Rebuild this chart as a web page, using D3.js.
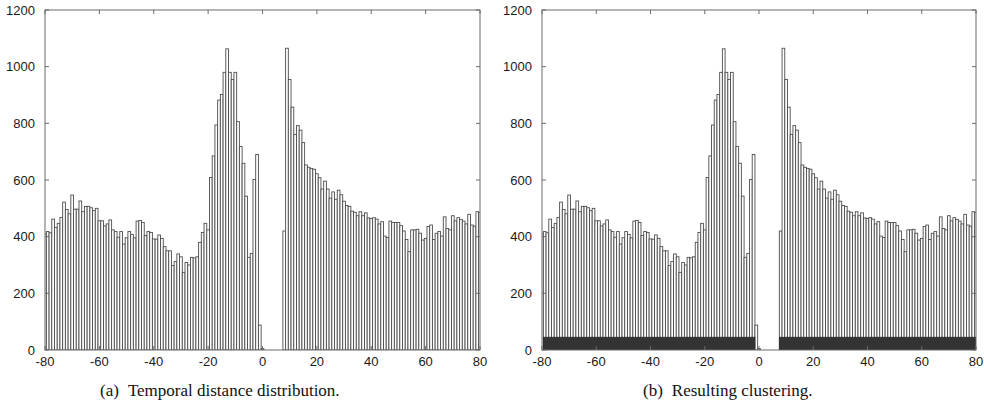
<!DOCTYPE html>
<html>
<head>
<meta charset="utf-8">
<script src="https://cdn.jsdelivr.net/npm/d3@7"></script>
<style>
  html, body { margin: 0; padding: 0; background: #fff; }
  svg { display: block; }
</style>
</head>
<body>
<svg id="chart" width="984" height="414"></svg>
<script>
// Histogram bins: one bin per unit of temporal distance, first bin at -80.
const firstBin = -80;
const counts = [
  410, 418, 414, 462, 432, 447, 468, 522, 496, 481, 547,
  497, 497, 526, 488, 507, 507, 502, 492, 500, 456, 456, 438, 445, 459,
  424, 418, 398, 418, 374, 396, 418, 408, 396,
  455, 457, 450,
  404, 418, 415, 392, 391, 406, 394, 365, 350,
  350, 298, 312, 339, 329, 274, 309, 300, 327, 325, 329,
  380, 415, 447, 424, 609, 685, 794, 882, 902, 980,
  1063,
  980, 955, 980, 806, 718, 659, 543, 327, 341, 602, 690, 88,
  5,
  0, 0, 0, 0, 0, 0, 0,
  420, 1065, 955, 857, 761, 792, 776, 732, 653, 645, 641, 638, 622, 608,
  568, 596, 568, 536, 558, 532, 564, 548, 525, 510, 507, 490, 486, 474, 488, 474, 484, 466, 464,
  467, 462, 445, 453, 402, 397, 455, 450, 450, 450, 439, 420, 390, 347,
  424, 424, 426, 412, 388, 394, 436, 441, 390, 412, 418, 402,
  470, 429, 424, 474, 456, 467, 461, 455, 445, 479, 441, 437, 488, 486
];

// Clusters found in panel (b): first and last bin of each cluster.
const clusters = [[-79, -2], [8, 80]];
const clusterLevel = 45;

const xTicks = [-80, -60, -40, -20, 0, 20, 40, 60, 80];
const yTicks = [0, 200, 400, 600, 800, 1000, 1200];

const panels = [
  { id: "a", label: "(a)", caption: "Temporal distance distribution.", left: 45, right: 480, showClusters: false, capX: 100 },
  { id: "b", label: "(b)", caption: "Resulting clustering.", left: 542, right: 976, showClusters: true, capX: 643 }
];

const plotTop = 10, plotBottom = 350, tickLen = 4;
const frameColor = "#6a6a6a";
const svg = d3.select("#chart");

const bins = counts.map((c, i) => ({ d: firstBin + i, c }));

panels.forEach(p => {
  const x = d3.scaleLinear().domain([-80, 80]).range([p.left, p.right]);
  const y = d3.scaleLinear().domain([0, 1200]).range([plotBottom, plotTop]);
  const g = svg.append("g");

  g.append("clipPath").attr("id", "clip-" + p.id)
    .append("rect")
    .attr("x", p.left).attr("y", plotTop)
    .attr("width", p.right - p.left).attr("height", plotBottom - plotTop);

  const plot = g.append("g").attr("clip-path", `url(#clip-${p.id})`);

  // histogram boxes, centred on each distance value
  plot.selectAll("rect.bar")
    .data(bins.filter(b => b.c > 0))
    .join("rect")
    .attr("class", "bar")
    .attr("x", b => x(b.d - 0.5))
    .attr("width", b => x(b.d + 0.5) - x(b.d - 0.5))
    .attr("y", b => y(b.c))
    .attr("height", b => y(0) - y(b.c))
    .attr("fill", "#fff")
    .attr("stroke", "#4d4d4d")
    .attr("stroke-width", 0.9);

  if (p.showClusters) {
    plot.selectAll("rect.cluster")
      .data(clusters)
      .join("rect")
      .attr("class", "cluster")
      .attr("x", c => x(c[0] - 0.5))
      .attr("width", c => x(c[1] + 0.5) - x(c[0] - 0.5))
      .attr("y", y(clusterLevel))
      .attr("height", y(0) - y(clusterLevel))
      .attr("fill", "#333")
      .attr("stroke", "#2a2a2a")
      .attr("stroke-width", 0.8);
  }

  // frame
  g.append("rect")
    .attr("x", p.left).attr("y", plotTop)
    .attr("width", p.right - p.left).attr("height", plotBottom - plotTop)
    .attr("fill", "none")
    .attr("stroke", frameColor)
    .attr("stroke-width", 1);

  // inward ticks, mirrored on the opposite side
  const ticks = g.append("g").attr("stroke", frameColor).attr("stroke-width", 1);
  xTicks.forEach(t => {
    ticks.append("line").attr("x1", x(t)).attr("x2", x(t)).attr("y1", plotBottom).attr("y2", plotBottom - tickLen);
    ticks.append("line").attr("x1", x(t)).attr("x2", x(t)).attr("y1", plotTop).attr("y2", plotTop + tickLen);
  });
  yTicks.forEach(t => {
    ticks.append("line").attr("x1", p.left).attr("x2", p.left + tickLen).attr("y1", y(t)).attr("y2", y(t));
    ticks.append("line").attr("x1", p.right).attr("x2", p.right - tickLen).attr("y1", y(t)).attr("y2", y(t));
  });

  const labelFont = "'Liberation Sans', Arial, Helvetica, sans-serif";
  g.append("g").selectAll("text")
    .data(xTicks)
    .join("text")
    .attr("x", t => x(t))
    .attr("y", plotBottom + 16)
    .attr("text-anchor", "middle")
    .attr("font-family", labelFont)
    .attr("font-size", 13)
    .attr("fill", "#1a1a1a")
    .text(t => t);

  g.append("g").selectAll("text")
    .data(yTicks)
    .join("text")
    .attr("x", p.left - 10)
    .attr("y", t => y(t) + 4.5)
    .attr("text-anchor", "end")
    .attr("font-family", labelFont)
    .attr("font-size", 13)
    .attr("fill", "#1a1a1a")
    .text(t => t);

  // sub-figure caption
  const cap = g.append("text")
    .attr("x", p.capX)
    .attr("y", 396)
    .attr("font-family", "'Liberation Serif', 'Times New Roman', serif")
    .attr("font-size", 17)
    .attr("fill", "#111");
  cap.append("tspan").text(p.label);
  cap.append("tspan").attr("dx", 9).text(p.caption);
});
</script>
</body>
</html>
